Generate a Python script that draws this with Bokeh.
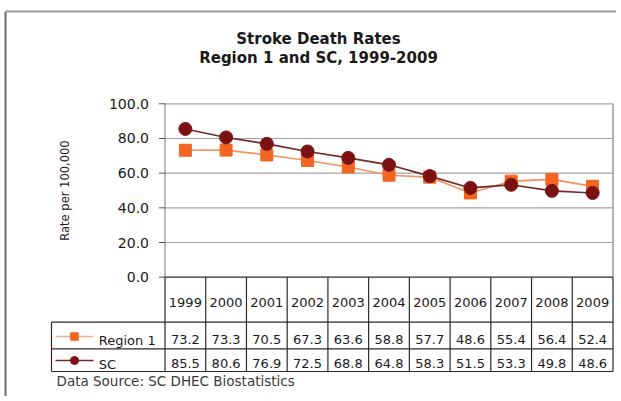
from math import pi

from bokeh.plotting import figure
from bokeh.models import Range1d
from bokeh.core.properties import value
from bokeh.embed import file_html
from bokeh.resources import INLINE

# ---------------- data ----------------
title_lines = ["Stroke Death Rates", "Region 1 and SC, 1999-2009"]
years = ["1999", "2000", "2001", "2002", "2003", "2004",
         "2005", "2006", "2007", "2008", "2009"]
series_names = ["Region 1", "SC"]
region1 = [73.2, 73.3, 70.5, 67.3, 63.6, 58.8, 57.7, 48.6, 55.4, 56.4, 52.4]
sc = [85.5, 80.6, 76.9, 72.5, 68.8, 64.8, 58.3, 51.5, 53.3, 49.8, 48.6]
y_ticks = [0, 20, 40, 60, 80, 100]
y_tick_labels = ["0.0", "20.0", "40.0", "60.0", "80.0", "100.0"]
y_axis_label = "Rate per 100,000"
source_note = "Data Source: SC DHEC Biostatistics"

# ---------------- layout (page pixels) ----------------
W, H = 616, 396
ORIG = 0
PLOT_L, PLOT_R = 164.5, 612.5
PLOT_T, PLOT_B = 103.3, 276.7
YMAX = 100
ROW1, ROW2, ROW3 = 321.7, 348.3, 371.0
LEG_L = 51

FONT = value("DejaVu Sans")
TXT = "#1a1a1a"
C_R1 = "#F26522"
C_R1_LINE = "#F6925C"
C_SC = "#7B1113"
C_SC_LINE = "#742828"

n = len(years)
idx = list(range(n))
ppu_x = (PLOT_R - PLOT_L) / n
x_start = -0.5 - (PLOT_L - ORIG) / ppu_x
x_end = n - 0.5 + (ORIG + W - PLOT_R) / ppu_x
ppu_y = (PLOT_B - PLOT_T) / YMAX
y_start = -(ORIG + H - PLOT_B) / ppu_y
y_end = YMAX + (PLOT_T - ORIG) / ppu_y

p = figure(width=W, height=H,
           x_range=Range1d(x_start, x_end), y_range=Range1d(y_start, y_end),
           output_backend="svg", toolbar_location=None,
           x_axis_location=None, y_axis_location=None,
           min_border=0, outline_line_color=None,
           background_fill_color="white", border_fill_color="white")
p.grid.visible = False
p.extra_x_ranges = {"px": Range1d(ORIG, ORIG + W)}
p.extra_y_ranges = {"px": Range1d(ORIG + H, ORIG)}

# outer chart-area border
p.segment(x0=[5], y0=[11], x1=[5], y1=[ORIG + H], line_color="#6a6a6a",
          line_width=2, x_range_name="px", y_range_name="px")
p.segment(x0=[5], y0=[11], x1=[ORIG + W], y1=[11], line_color="#9a9a9a",
          line_width=2, x_range_name="px", y_range_name="px")

# titles
for line, base in zip(title_lines, [38.3, 57.3]):
    p.text(x=[318], y=[base], text=[line], text_font=FONT,
           text_font_size=value("15px"), text_font_style="bold",
           text_color=TXT, text_align="center", text_baseline="alphabetic",
           x_range_name="px", y_range_name="px")

# gridlines + plot border
grid_vals = [t for t in y_ticks if t > 0]
p.segment(x0=[-0.5] * len(grid_vals), x1=[n - 0.5] * len(grid_vals),
          y0=grid_vals, y1=grid_vals, line_color="#a3a3a3", line_width=1.2)
p.segment(x0=[n - 0.5], y0=[0], x1=[n - 0.5], y1=[YMAX],
          line_color="#9a9a9a", line_width=1.5)
# y axis line and ticks
p.segment(x0=[-0.5], y0=[0], x1=[-0.5], y1=[YMAX], line_color="#7a7a7a",
          line_width=1)
p.segment(x0=[158.3] * len(y_ticks), x1=[PLOT_L] * len(y_ticks),
          y0=y_ticks, y1=y_ticks, line_color="#555555", line_width=1,
          x_range_name="px")
p.text(x=[148.5] * len(y_ticks), y=y_ticks, text=y_tick_labels,
       text_font=FONT, text_font_size=value("14px"), text_color=TXT,
       text_align="right", text_baseline="middle", x_range_name="px")
p.text(x=[64], y=[190], text=[y_axis_label], angle=pi / 2,
       text_font=FONT, text_font_size=value("11.5px"), text_color=TXT,
       text_align="center", text_baseline="middle",
       x_range_name="px", y_range_name="px")

# series
p.line(x=idx, y=region1, line_color=C_R1_LINE, line_width=1.6)
p.scatter(x=idx, y=region1, marker="square", size=12,
          fill_color=C_R1, line_color=C_R1)
p.line(x=idx, y=sc, line_color=C_SC_LINE, line_width=1.6)
p.scatter(x=idx, y=sc, marker="circle", size=13,
          fill_color=C_SC, line_color=C_SC)

# data table grid
TBL = "#2a2a2a"
p.segment(x0=[-0.5], y0=[0], x1=[n - 0.5], y1=[0], line_color=TBL,
          line_width=1.2)
p.segment(x0=[i - 0.5 for i in range(n + 1)], x1=[i - 0.5 for i in range(n + 1)],
          y0=[PLOT_B] * (n + 1), y1=[ROW3] * (n + 1), line_color=TBL,
          line_width=1.2, y_range_name="px")
p.segment(x0=[LEG_L] * 3, x1=[PLOT_R] * 3, y0=[ROW1, ROW2, ROW3],
          y1=[ROW1, ROW2, ROW3], line_color=TBL, line_width=1.2,
          x_range_name="px", y_range_name="px")
p.segment(x0=[LEG_L], x1=[LEG_L], y0=[ROW1], y1=[ROW3], line_color=TBL,
          line_width=1.2, x_range_name="px", y_range_name="px")

# table texts
p.text(x=idx, y=[301.7] * n, text=years, text_font=FONT,
       text_font_size=value("13px"), text_color=TXT, text_align="center",
       text_baseline="alphabetic", y_range_name="px")
for vals, base in zip([region1, sc], [338.6, 363.4]):
    p.text(x=idx, y=[base] * n, text=[f"{v:.1f}" for v in vals],
           text_font=FONT, text_font_size=value("13px"), text_color=TXT,
           text_align="center", text_baseline="alphabetic", y_range_name="px")

# legend column in table
p.segment(x0=[55, 55], x1=[93, 93], y0=[336, 360], y1=[336, 360],
          line_color=["#F8AE85", C_SC_LINE], line_width=1.5,
          x_range_name="px", y_range_name="px")
p.scatter(x=[74], y=[336], marker="square", size=7.5, fill_color=C_R1,
          line_color=C_R1, x_range_name="px", y_range_name="px")
p.scatter(x=[74], y=[360], marker="circle", size=8, fill_color=C_SC,
          line_color=C_SC, x_range_name="px", y_range_name="px")
p.text(x=[98.3, 98.3], y=[339.6, 364.2], text=series_names, text_font=FONT,
       text_font_size=value("13px"), text_color=TXT, text_align="left",
       text_baseline="alphabetic", x_range_name="px", y_range_name="px")

# source note
p.text(x=[56], y=[380.6], text=[source_note], text_font=FONT,
       text_font_size=value("13.5px"), text_color="#3a3a3a",
       text_align="left", text_baseline="alphabetic",
       x_range_name="px", y_range_name="px")

open("out.html", "w").write(file_html(p, INLINE))
